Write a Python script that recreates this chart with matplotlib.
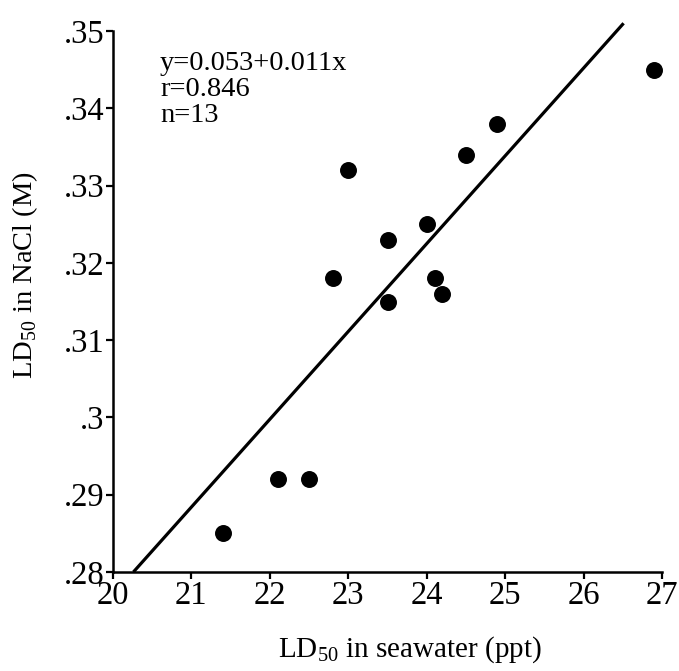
import matplotlib
matplotlib.use("Agg")
from matplotlib import pyplot as plt

plt.rcParams['font.family'] = ['Liberation Serif', 'DejaVu Serif']
plt.rcParams['mathtext.fontset'] = 'custom'
plt.rcParams['mathtext.rm'] = 'Liberation Serif'

# LD50 values
seawater = [21.4, 22.1, 22.5, 22.8, 23.0, 23.5, 23.5, 24.0, 24.1, 24.2, 24.5, 24.9, 26.9]
nacl = [0.285, 0.292, 0.292, 0.318, 0.332, 0.323, 0.315, 0.325, 0.318, 0.316, 0.334, 0.338, 0.345]

# fitted line as drawn (end points)
fit_x = [20.26, 26.51]
fit_y = [0.280, 0.351]

stats = ["y=0.053+0.011x", "r=0.846", "n=13"]

x_ticks = [20, 21, 22, 23, 24, 25, 26, 27]
y_ticks = [0.28, 0.29, 0.30, 0.31, 0.32, 0.33, 0.34, 0.35]
y_labels = [".28", ".29", ".3", ".31", ".32", ".33", ".34", ".35"]

fig = plt.figure(figsize=(6.79, 6.71), dpi=100)
ax = fig.add_axes([0.1664, 0.1475, 0.8086, 0.8063])

ax.plot(fit_x, fit_y, color="black", lw=2.3, solid_capstyle="butt", clip_on=False)
ax.scatter(seawater, nacl, s=125, color="black", zorder=3, clip_on=False)

ax.set_xlim(20, 27)
ax.set_ylim(0.28, 0.35)
ax.set_xticks(x_ticks)
ax.set_xticklabels([str(t) for t in x_ticks])
ax.set_yticks(y_ticks)
ax.set_yticklabels(y_labels)
ax.tick_params(direction="out", length=5, width=1.6, labelsize=23.5, pad=1)

for side in ["top", "right"]:
    ax.spines[side].set_visible(False)
for side in ["left", "bottom"]:
    ax.spines[side].set_linewidth(1.8)

# stats block, one line at a time
for i, line in enumerate(stats):
    ax.text(0.0856, 0.94 - i * 0.048, line, transform=ax.transAxes,
            fontsize=20.5, va="center", ha="left")

fig.text(0.604, 0.032, r"LD$_{\rm 50}$ in seawater (ppt)", fontsize=21,
         ha="center", va="center")
fig.text(0.037, 0.59, r"LD$_{\rm 50}$ in NaCl (M)", fontsize=20.5,
         ha="center", va="center", rotation=90)

fig.savefig("out.png", dpi=100)
